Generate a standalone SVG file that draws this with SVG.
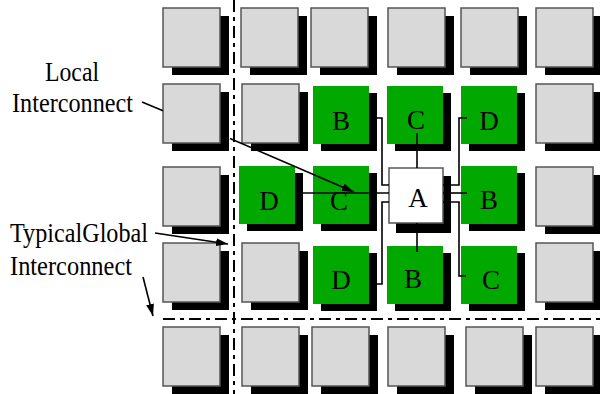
<svg xmlns="http://www.w3.org/2000/svg" width="600" height="394" viewBox="0 0 600 394">
<style>
.sh{fill:#000}
.g{fill:#d9d9d9;stroke:#555;stroke-width:1.5}
.gr{fill:#00a800}
.a{fill:#fff;stroke:#555;stroke-width:1.5}
.t{font-family:"Liberation Serif","Times New Roman",serif;font-size:27px;fill:#000}
.c{text-anchor:middle}
.w{fill:none;stroke:#000;stroke-width:1.6}
.dd{fill:none;stroke:#000;stroke-width:2;stroke-dasharray:12 5 4 5}
</style>
<defs>
<marker id="ah" viewBox="0 0 12 8" refX="12" refY="4" markerWidth="12" markerHeight="8" markerUnits="userSpaceOnUse" orient="auto">
<path d="M0,0 L12,4 L0,8 Z" fill="#000"/>
</marker>
</defs>
<rect width="600" height="394" fill="#fff"/>
<g id="global-lines">
<line class="dd" x1="234" y1="0" x2="234" y2="394"/>
<line class="dd" x1="163" y1="319" x2="600" y2="319"/>
</g>
<g id="gray-r1c1"><rect class="sh" x="172" y="16" width="57" height="59"/><rect class="g" x="163" y="8" width="57" height="59"/></g>
<g id="gray-r1c2"><rect class="sh" x="250" y="16" width="57" height="59"/><rect class="g" x="241" y="8" width="57" height="59"/></g>
<g id="gray-r1c3"><rect class="sh" x="320" y="16" width="57" height="59"/><rect class="g" x="311" y="8" width="57" height="59"/></g>
<g id="gray-r1c4"><rect class="sh" x="397" y="16" width="57" height="59"/><rect class="g" x="388" y="8" width="57" height="59"/></g>
<g id="gray-r1c5"><rect class="sh" x="470" y="16" width="57" height="59"/><rect class="g" x="461" y="8" width="57" height="59"/></g>
<g id="gray-r1c6"><rect class="sh" x="545" y="16" width="57" height="59"/><rect class="g" x="536" y="8" width="57" height="59"/></g>
<g id="gray-r2c1"><rect class="sh" x="172" y="92" width="57" height="59"/><rect class="g" x="163" y="84" width="57" height="59"/></g>
<g id="gray-r2c2"><rect class="sh" x="251" y="92" width="57" height="59"/><rect class="g" x="242" y="84" width="57" height="59"/></g>
<g id="gray-r2c6"><rect class="sh" x="545" y="92" width="57" height="59"/><rect class="g" x="536" y="84" width="57" height="59"/></g>
<g id="gray-r3c1"><rect class="sh" x="172" y="175" width="57" height="59"/><rect class="g" x="163" y="167" width="57" height="59"/></g>
<g id="gray-r3c6"><rect class="sh" x="545" y="175" width="57" height="59"/><rect class="g" x="536" y="167" width="57" height="59"/></g>
<g id="gray-r4c1"><rect class="sh" x="172" y="251" width="57" height="59"/><rect class="g" x="163" y="243" width="57" height="59"/></g>
<g id="gray-r4c2"><rect class="sh" x="251" y="251" width="57" height="59"/><rect class="g" x="242" y="243" width="57" height="59"/></g>
<g id="gray-r4c6"><rect class="sh" x="545" y="251" width="57" height="59"/><rect class="g" x="536" y="243" width="57" height="59"/></g>
<g id="gray-r5c1"><rect class="sh" x="172" y="335" width="57" height="59"/><rect class="g" x="163" y="327" width="57" height="59"/></g>
<g id="gray-r5c2"><rect class="sh" x="251" y="335" width="57" height="59"/><rect class="g" x="242" y="327" width="57" height="59"/></g>
<g id="gray-r5c3"><rect class="sh" x="321" y="335" width="57" height="59"/><rect class="g" x="312" y="327" width="57" height="59"/></g>
<g id="gray-r5c4"><rect class="sh" x="397" y="335" width="57" height="59"/><rect class="g" x="388" y="327" width="57" height="59"/></g>
<g id="gray-r5c5"><rect class="sh" x="475" y="335" width="57" height="59"/><rect class="g" x="466" y="327" width="57" height="59"/></g>
<g id="gray-r5c6"><rect class="sh" x="545" y="335" width="57" height="59"/><rect class="g" x="536" y="327" width="57" height="59"/></g>
<g id="B1"><rect class="sh" x="321" y="93" width="56" height="58"/><rect class="gr" x="313" y="86" width="56" height="58"/><text class="t c" x="341" y="130">B</text></g>
<g id="C1"><rect class="sh" x="395" y="93" width="56" height="58"/><rect class="gr" x="387" y="86" width="56" height="58"/><text class="t c" x="416" y="129">C</text></g>
<g id="D1"><rect class="sh" x="469" y="93" width="56" height="58"/><rect class="gr" x="461" y="86" width="56" height="58"/><text class="t c" x="489" y="130">D</text></g>
<g id="D2"><rect class="sh" x="247" y="173" width="56" height="58"/><rect class="gr" x="239" y="166" width="56" height="58"/><text class="t c" x="269" y="210">D</text></g>
<g id="C2"><rect class="sh" x="321" y="173" width="56" height="58"/><rect class="gr" x="313" y="166" width="56" height="58"/><text class="t c" x="339" y="210">C</text></g>
<g id="B2"><rect class="sh" x="469" y="173" width="56" height="58"/><rect class="gr" x="461" y="166" width="56" height="58"/><text class="t c" x="489" y="209">B</text></g>
<g id="D3"><rect class="sh" x="321" y="253" width="56" height="58"/><rect class="gr" x="313" y="246" width="56" height="58"/><text class="t c" x="341" y="289">D</text></g>
<g id="B3"><rect class="sh" x="395" y="253" width="56" height="58"/><rect class="gr" x="387" y="246" width="56" height="58"/><text class="t c" x="413" y="288">B</text></g>
<g id="C3"><rect class="sh" x="469" y="253" width="56" height="58"/><rect class="gr" x="461" y="246" width="56" height="58"/><text class="t c" x="491" y="289">C</text></g>
<g id="A"><rect class="sh" x="396" y="176" width="55" height="57"/><rect class="a" x="389" y="168" width="54" height="55"/><text class="t c" x="418" y="207">A</text></g>
<g id="connectors">
<path class="w" d="M369,118 H382 V185 H389"/>
<path class="w" d="M417,133 V168"/>
<path class="w" d="M467,118 H459 V185 H443"/>
<path class="w" d="M295,193 H389"/>
<path class="w" d="M443,193 H467"/>
<path class="w" d="M466,276 H459 V202 H443"/>
<path class="w" d="M369,284 H382 V202 H389"/>
<path class="w" d="M417,223 V252"/>
<path class="w" d="M142,102 L163,110.7 M230,138.4 L354,192" marker-end="url(#ah)"/>
<path class="w" d="M155,233 L228,244" marker-end="url(#ah)"/>
<path class="w" d="M143,277 L153,316" marker-end="url(#ah)"/>
</g>
<g id="labels">
<text class="t" x="45" y="81" textLength="54" lengthAdjust="spacingAndGlyphs">Local</text>
<text class="t" x="12" y="112" textLength="121" lengthAdjust="spacingAndGlyphs">Interconnect</text>
<text class="t" x="10" y="242" textLength="138" lengthAdjust="spacingAndGlyphs">TypicalGlobal</text>
<text class="t" x="10" y="275" textLength="122" lengthAdjust="spacingAndGlyphs">Interconnect</text>
</g>
</svg>
